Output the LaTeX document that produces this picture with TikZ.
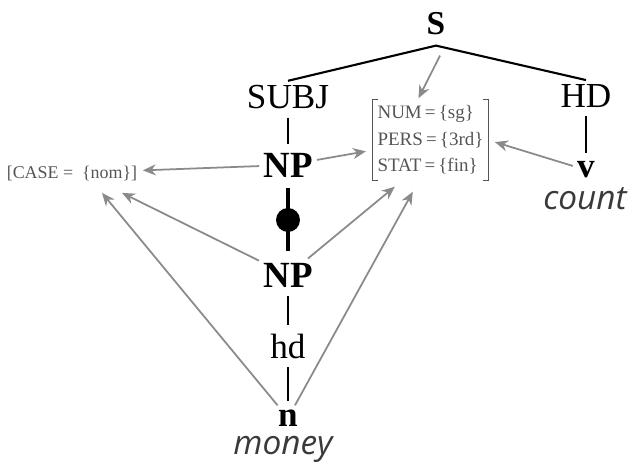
\documentclass[tikz,border=0pt]{standalone}
\usepackage{fontspec}
\setmainfont{Liberation Serif}
\newfontfamily\sansit{Open Sans}
\usetikzlibrary{arrows.meta,positioning,calc}
\definecolor{featgray}{HTML}{555555}
\definecolor{arrowgray}{HTML}{8A8A8A}
\definecolor{wordgray}{HTML}{3A3A3A}
\tikzset{
  cat/.style={inner sep=2.3pt, font=\fontsize{20}{24}\selectfont},
  boldcat/.style={cat, font=\fontsize{21}{24}\selectfont\bfseries},
  word/.style={anchor=base, inner sep=0pt, text=wordgray, font=\fontsize{19}{22}\selectfont\sansit\itshape},
  featbox/.style={align=left, inner xsep=2.5pt, inner ysep=3.5pt, text=featgray, font=\fontsize{10.8}{15}\selectfont},
  bracket/.style={draw=featgray, line width=0.6pt},
  branch/.style={line width=1.2pt},
  stem/.style={line width=0.8pt, shorten <=2.5pt, shorten >=2.5pt},
  fatstem/.style={line width=2.4pt, shorten <=4pt, shorten >=4pt},
  bigdot/.style={circle, fill=black, inner sep=0pt, minimum size=0.48cm},
  garr/.style={-{Stealth[length=2.6mm,width=2.2mm]}, line width=1pt, draw=arrowgray}
}

\begin{document}
\begin{tikzpicture}[x=0.02cm, y=-0.02cm]
    \useasboundingbox (0,0) rectangle (630,465);
    \node[boldcat, font=\fontsize{19}{24}\selectfont\bfseries] (s) at (436,24) {S};
    \node[cat] (subj) at (288,97) {SUBJ};
    \node[cat] (hd) at (586,96) {HD};
    \node[boldcat] (np) at (288,165) {NP};
    \node[boldcat] (npb) at (288,275) {NP};
    \node[cat] (hdlab) at (288,346) {hd};
    \node[boldcat, font=\fontsize{20}{24}\selectfont\bfseries] (n) at (288,418) {n};
    \node[boldcat, font=\fontsize{20}{24}\selectfont\bfseries] (v) at (586,170) {v};
    \node[word] (count) at (585,210) {count};
    \node[word] (money) at (283,455) {money};
    \node[featbox] (feat) at (430.5,140) {NUM\,=\,\{sg\}\\PERS\,=\,\{3rd\}\\STAT\,=\,\{fin\}};
    \node[featbox, inner xsep=0pt, font=\fontsize{10.2}{13}\selectfont] (case) at (72,173) {[CASE =~ \{nom\}]};
    \draw[bracket] ([xshift=3pt]feat.north west) -- (feat.north west) -- (feat.south west) -- ([xshift=3pt]feat.south west);
    \draw[bracket] ([xshift=-3pt]feat.north east) -- (feat.north east) -- (feat.south east) -- ([xshift=-3pt]feat.south east);
    \draw[branch] ($(s.south)+(0,6)$) -- (subj.north);
    \draw[branch] ($(s.south)+(0,6)$) -- (hd.north);
    \draw[stem] (subj) -- (np);
    \draw[stem] (hd) -- (v);
    \draw[fatstem] (np) -- node[bigdot] {} (npb);
    \draw[stem] (npb) -- (hdlab);
    \draw[stem] (hdlab) -- (n);
    \draw[garr] ($(s.south)+(4,16)$) -- ($(feat.north)+(-12,-1)$);
    \draw[garr, shorten >=4pt] (np) -- (feat);
    \draw[garr, shorten >=3pt] (np) -- (case);
    \draw[garr, shorten >=4pt] (v) -- (feat.east);
    \draw[garr] (npb) -- ($(feat.south west)+(22,6)$);
    \draw[garr] (n) -- ($(feat.south west)+(40,11)$);
    \draw[garr] (npb) -- ($(case.south)+(50,6)$);
    \draw[garr] (n) -- ($(case.south)+(30,6)$);
  \end{tikzpicture}
\end{document}
